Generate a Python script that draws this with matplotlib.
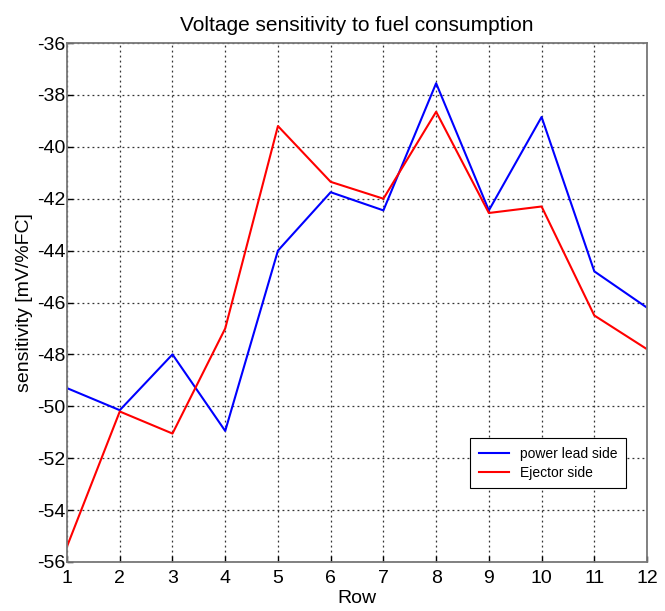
import numpy as np
import matplotlib
matplotlib.use('Agg')
import matplotlib.pyplot as plt

plt.rcParams['font.family'] = ['Liberation Sans', 'DejaVu Sans']
plt.rcParams['axes.unicode_minus'] = False

# data
rows = np.arange(1, 13)
power_lead = [-49.3, -50.15, -48.0, -50.95, -44.0, -41.75, -42.45, -37.55, -42.45, -38.85, -44.8, -46.2]
ejector = [-55.4, -50.2, -51.05, -47.0, -39.2, -41.35, -42.0, -38.65, -42.55, -42.3, -46.5, -47.8]

fig = plt.figure(figsize=(6.65, 6.11), dpi=100)
ax = fig.add_axes([0.1008, 0.0802, 0.8722, 0.8494])

ax.plot(rows, power_lead, color='#0000ff', lw=1.5, label='power lead side')
ax.plot(rows, ejector, color='#ff0000', lw=1.5, label='Ejector side')

ax.set_xlim(1, 12)
ax.set_ylim(-56, -36)
ax.set_xticks(rows)
ax.set_yticks(np.arange(-56, -35, 2))
ax.grid(True, color='#333333', linestyle=(0, (1.5, 2.5)), linewidth=0.9)
ax.tick_params(direction='in', length=4, width=1, labelsize=14)
ax.tick_params(axis='x', pad=6)
ax.tick_params(axis='y', pad=1)
for s in ax.spines.values():
    s.set_color('#777777')
    s.set_linewidth(1.3)

ax.set_title('Voltage sensitivity to fuel consumption', fontsize=15, pad=9)
ax.set_xlabel('Row', fontsize=14, labelpad=2)
ax.set_ylabel('sensitivity [mV/%FC]', fontsize=14, labelpad=3)

leg = ax.legend(loc='lower right', bbox_to_anchor=(0.964, 0.1426), borderaxespad=0,
                fontsize=10, fancybox=False, framealpha=1, edgecolor='black',
                handlelength=2.2, borderpad=0.6, labelspacing=0.35)
leg.get_frame().set_linewidth(0.8)

plt.savefig('out.png', dpi=100)
